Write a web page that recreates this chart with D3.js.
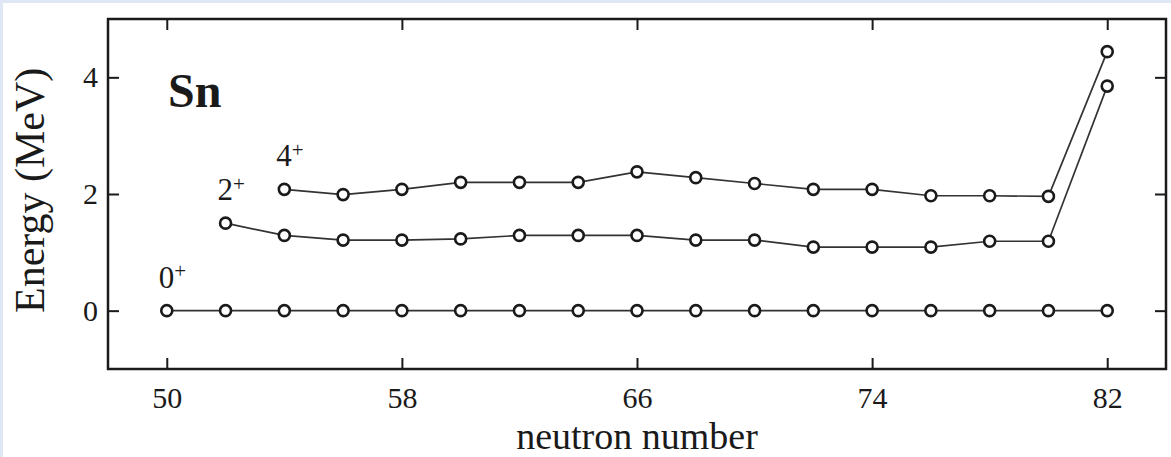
<!DOCTYPE html>
<html>
<head>
<meta charset="utf-8">
<script src="https://cdn.jsdelivr.net/npm/d3@7"></script>
<style>
  html, body { margin: 0; padding: 0; background: #dfe7f4; }
  svg { display: block; }
</style>
</head>
<body>
<svg id="chart" width="1171" height="457"></svg>
<script>
// ---- data ----
const neutrons0 = [50,52,54,56,58,60,62,64,66,68,70,72,74,76,78,80,82];
const energy0   = [0,0,0,0,0,0,0,0,0,0,0,0,0,0,0,0,0];
const neutrons2 = [52,54,56,58,60,62,64,66,68,70,72,74,76,78,80,82];
const energy2   = [1.50,1.29,1.21,1.21,1.23,1.29,1.29,1.29,1.21,1.21,1.09,1.09,1.09,1.19,1.19,3.85];
const neutrons4 = [54,56,58,60,62,64,66,68,70,72,74,76,78,80,82];
const energy4   = [2.08,1.99,2.08,2.20,2.20,2.20,2.38,2.28,2.18,2.08,2.08,1.97,1.97,1.96,4.44];
const seriesLabels = ["0", "2", "4"];
const xTicks = [50,58,66,74,82];
const yTicks = [0,2,4];
const xTitle = "neutron number";
const yTitle = "Energy (MeV)";
const elementLabel = "Sn";

(function () {
const svg = d3.select("#chart");
const W = 1171, H = 457;
const mL = 108, mR = 1166, mT = 19, mB = 369;
const font = "'Liberation Serif','Times New Roman',serif";

svg.append("rect").attr("x", 3).attr("y", 3).attr("width", W - 3).attr("height", H - 3).attr("fill", "#ffffff");

const x = d3.scaleLinear().domain([48, 84]).range([mL, mR]);
const y = d3.scaleLinear().domain([-1, 5]).range([mB, mT]);

const tickLen = 11;
const ink = "#1a1a1a";
const fmt = d3.format("d");

const gB = svg.append("g").attr("transform", `translate(0,${mB})`)
  .call(d3.axisBottom(x).tickValues(xTicks).tickFormat(fmt).tickSizeInner(-tickLen).tickSizeOuter(0).tickPadding(18));
const gT = svg.append("g").attr("transform", `translate(0,${mT})`)
  .call(d3.axisTop(x).tickValues(xTicks).tickSizeInner(-tickLen).tickSizeOuter(0).tickFormat(""));
const gL = svg.append("g").attr("transform", `translate(${mL},0)`)
  .call(d3.axisLeft(y).tickValues(yTicks).tickFormat(fmt).tickSizeInner(-tickLen).tickSizeOuter(0).tickPadding(10));
const gR = svg.append("g").attr("transform", `translate(${mR},0)`)
  .call(d3.axisRight(y).tickValues(yTicks).tickSizeInner(-tickLen).tickSizeOuter(0).tickFormat(""));

[gB, gT, gL, gR].forEach(g => {
  g.select(".domain").remove();
  g.selectAll(".tick line").attr("stroke", ink).attr("stroke-width", 2);
  g.selectAll(".tick text").attr("fill", ink).style("font-family", font).style("font-size", "30px");
});
gB.selectAll(".tick text").attr("dy", "0.71em");

svg.append("rect").attr("x", mL).attr("y", mT).attr("width", mR - mL).attr("height", mB - mT)
  .attr("fill", "none").attr("stroke", ink).attr("stroke-width", 2.5);

const series = [
  { n: neutrons0, e: energy0, label: seriesLabels[0] },
  { n: neutrons2, e: energy2, label: seriesLabels[1] },
  { n: neutrons4, e: energy4, label: seriesLabels[2] }
];
const line = d3.line().x(d => x(d[0])).y(d => y(d[1]));

series.forEach(s => {
  const pts = s.n.map((v, i) => [v, s.e[i]]);
  svg.append("path").datum(pts).attr("d", line)
    .attr("fill", "none").attr("stroke", "#333").attr("stroke-width", 1.7);
  svg.append("g").selectAll("circle").data(pts).join("circle")
    .attr("cx", d => x(d[0])).attr("cy", d => y(d[1])).attr("r", 5.5)
    .attr("fill", "#fff").attr("stroke", ink).attr("stroke-width", 2.6);
  const t = svg.append("text")
    .attr("x", x(pts[0][0]) - 8).attr("y", y(pts[0][1]) - 23)
    .attr("fill", ink).style("font-family", font).style("font-size", "31px");
  t.append("tspan").text(s.label);
  t.append("tspan").attr("dy", "-0.45em").style("font-size", "21px").text("+");
});

svg.append("text").attr("x", 168).attr("y", 107)
  .attr("fill", ink).style("font-family", font).style("font-size", "48px").style("font-weight", "bold")
  .text(elementLabel);

svg.append("text").attr("x", (mL + mR) / 2).attr("y", 448.5).attr("text-anchor", "middle")
  .attr("fill", ink).style("font-family", font).style("font-size", "38px").text(xTitle);
svg.append("text").attr("transform", `translate(44,313) rotate(-90)`)
  .attr("text-anchor", "start")
  .attr("fill", ink).style("font-family", font).style("font-size", "42px").text(yTitle);
})();
</script>
</body>
</html>
